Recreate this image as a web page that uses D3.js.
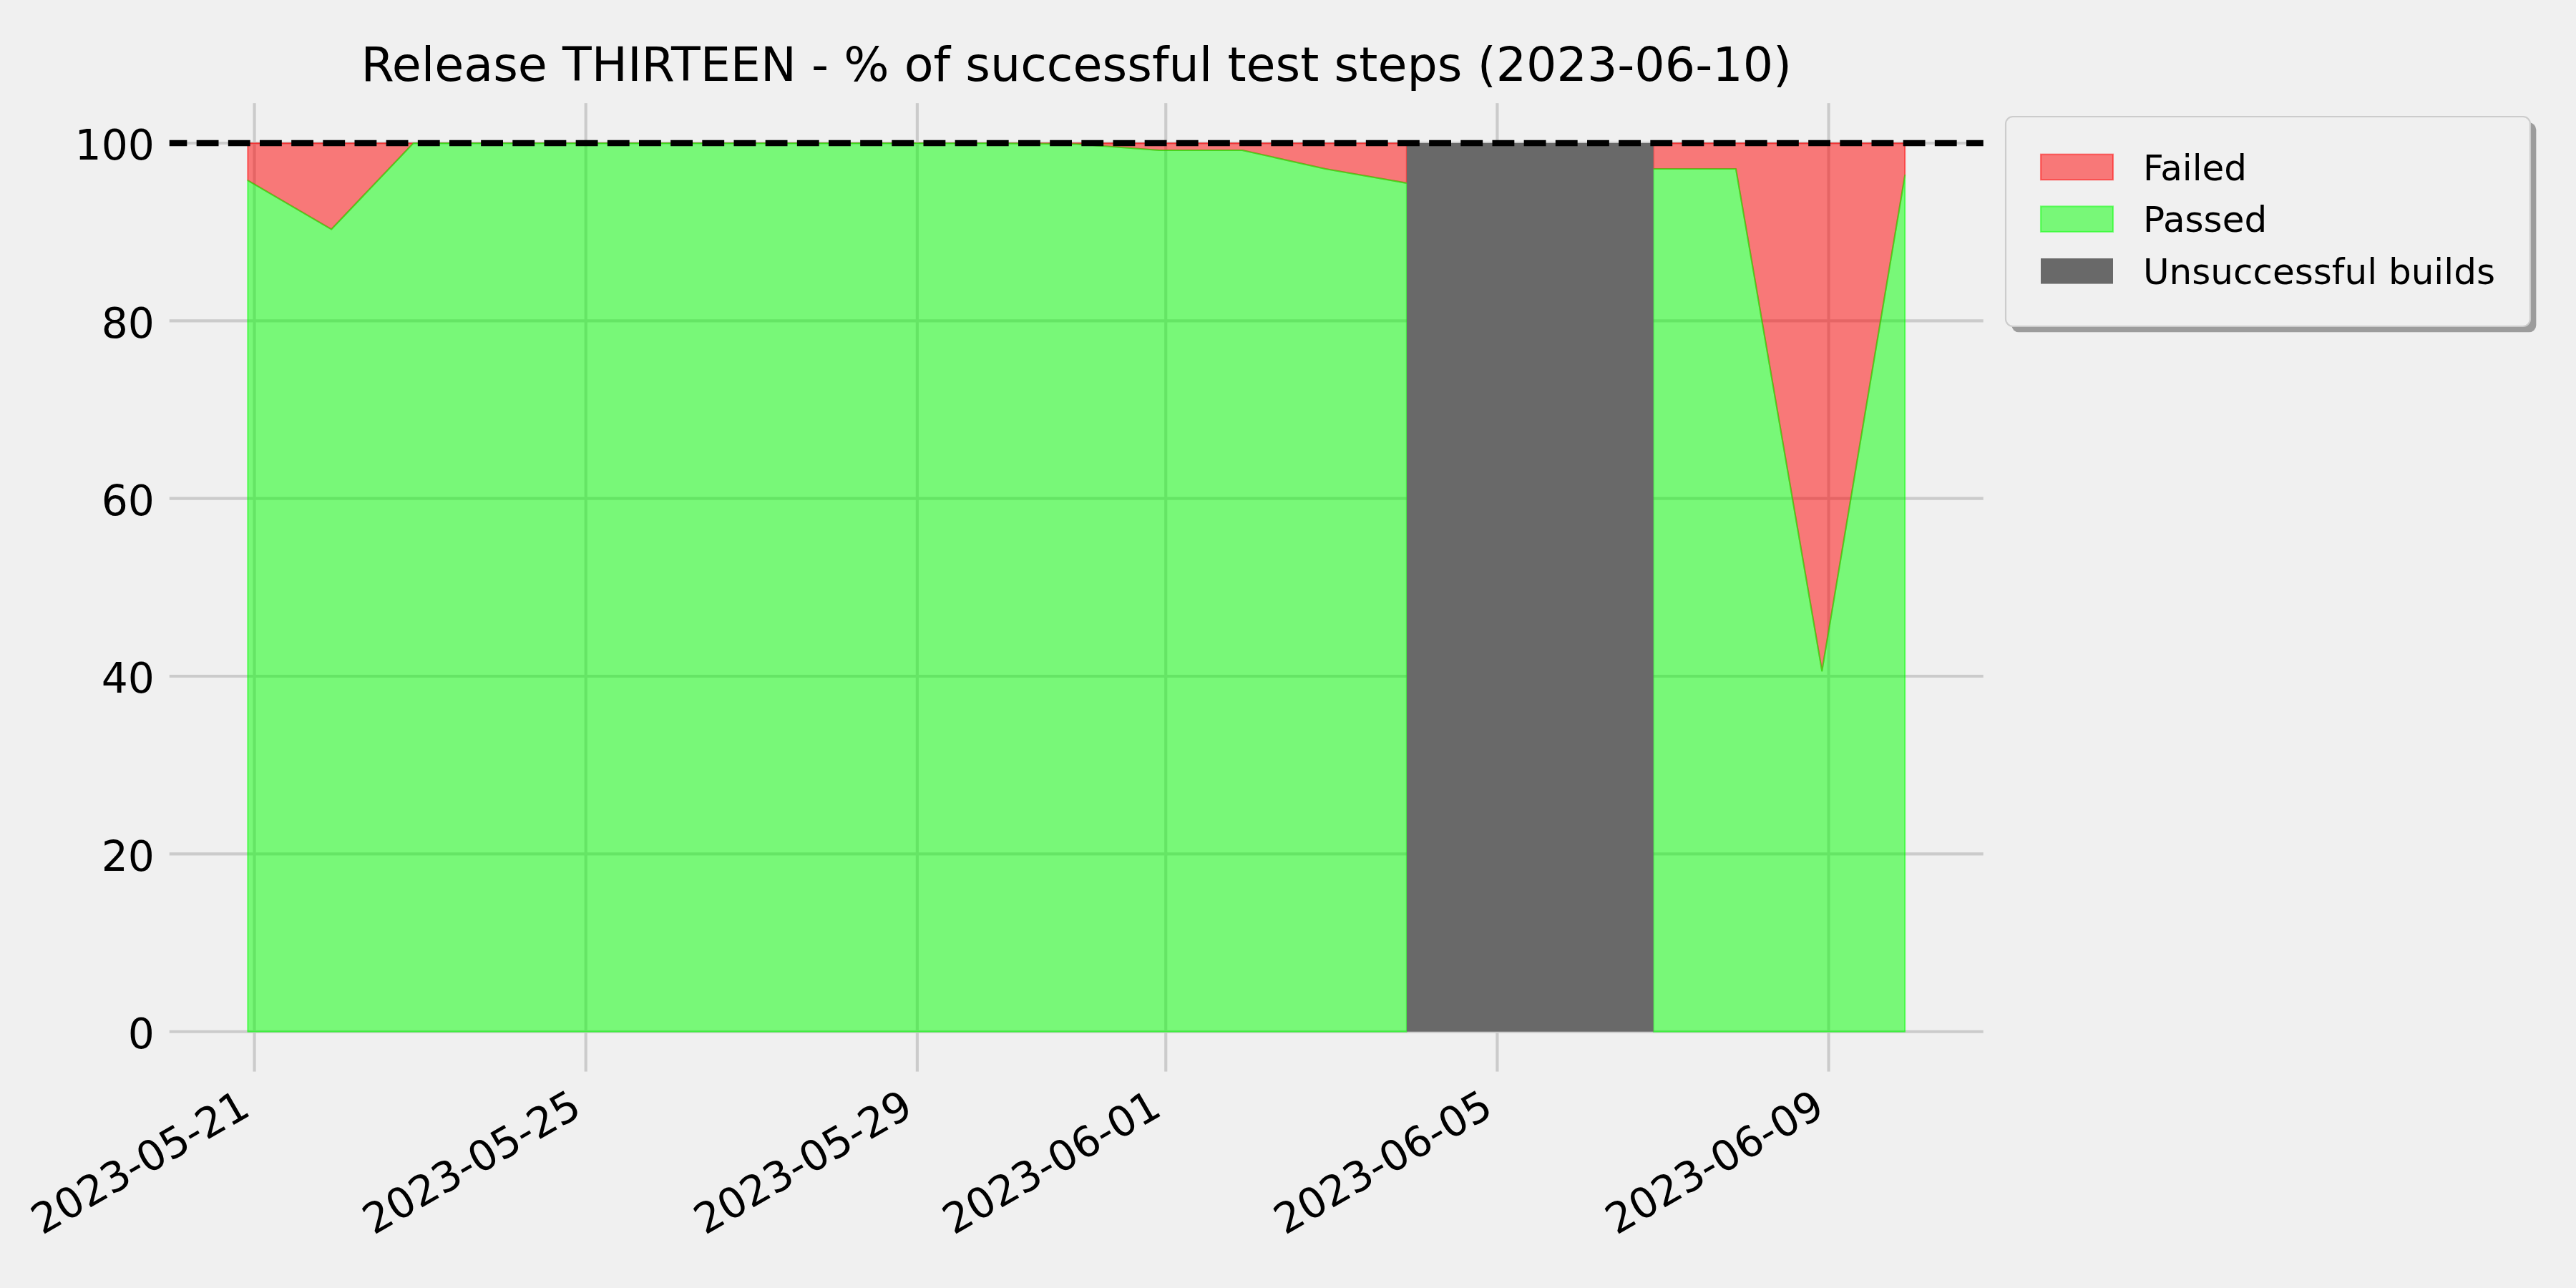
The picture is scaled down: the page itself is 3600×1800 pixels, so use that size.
<!DOCTYPE html>
<html>
<head>
<meta charset="utf-8">
<script src="https://cdn.jsdelivr.net/npm/d3@7/dist/d3.min.js"></script>
<style>
  html, body { margin: 0; padding: 0; background: #f0f0f0; }
  svg { display: block; }
  text { font-family: "DejaVu Sans", sans-serif; fill: #000; }
</style>
</head>
<body>
<svg id="chart" width="3600" height="1800"></svg>
<script>
// ---------------- data ----------------
const titleText = "Release THIRTEEN - % of successful test steps (2023-06-10)";

// time each nightly run was executed
const runTimes = [
  "2023-05-20T22:05", "2023-05-21T22:17", "2023-05-22T22:03", "2023-05-23T22:05",
  "2023-05-24T22:05", "2023-05-25T22:05", "2023-05-26T22:05", "2023-05-27T22:05",
  "2023-05-28T22:05", "2023-05-29T22:05", "2023-05-30T22:05", "2023-05-31T22:08",
  "2023-06-01T22:10", "2023-06-02T22:14", "2023-06-03T21:46", "2023-06-04T22:05",
  "2023-06-05T22:05", "2023-06-06T21:15", "2023-06-07T21:08", "2023-06-08T22:04",
  "2023-06-09T22:06"
];
// did the build succeed?
const buildOk = [
  true, true, true, true, true, true, true, true, true, true, true,
  true, true, true, true, false, false, true, true, true, true
];
// % of passed test steps (null = no tests, build failed)
const passedPct = [
  95.8, 90.3, 100, 100, 100, 100, 100, 100, 100, 100, 99.9,
  99.2, 99.2, 97.1, 95.5, null, null, 97.1, 97.1, 40.6, 96.4
];
const targetPct = 100;

const yTicks = [0, 20, 40, 60, 80, 100];
const xTickLabels = ["2023-05-21", "2023-05-25", "2023-05-29", "2023-06-01", "2023-06-05", "2023-06-09"];

const legendLabels = ["Failed", "Passed", "Unsuccessful builds"];

// ---------------- styles ----------------
const C = {
  bg: "#f0f0f0",
  grid: "#cbcbcb",
  red: "#ff0000",
  green: "#00ff00",
  gray: "#696969",
  legendEdge: "#cccccc",
  shadow: "#9c9c9c"
};
const PT = 300 / 72; // px per point

// ---------------- layout ----------------
const axL = 230.5, axR = 2778, axT = 137.9, axB = 1503.8;

const parseRun = d3.timeParse("%Y-%m-%dT%H:%M");
const parseDay = d3.timeParse("%Y-%m-%d");

const runs = runTimes.map((t, i) => ({
  t: parseRun(t), ok: buildOk[i], passed: passedPct[i]
}));

const ext = d3.extent(runs, d => d.t);
const span = ext[1] - ext[0];
const x = d3.scaleTime()
  .domain([new Date(+ext[0] - 0.05 * span), new Date(+ext[1] + 0.05 * span)])
  .range([axL, axR]);
const y = d3.scaleLinear().domain([-5, 105]).range([axB, axT]);

const svg = d3.select("#chart");
svg.append("rect").attr("width", 3600).attr("height", 1800).attr("fill", C.bg);

// grid
const g = svg.append("g");
g.selectAll("line.hg").data(yTicks).join("line")
  .attr("x1", axL).attr("x2", axR)
  .attr("y1", d => y(d)).attr("y2", d => y(d))
  .attr("stroke", C.grid).attr("stroke-width", 1 * PT);
const xTicks = xTickLabels.map(parseDay);
g.selectAll("line.vg").data(xTicks).join("line")
  .attr("x1", d => x(d)).attr("x2", d => x(d))
  .attr("y1", axT).attr("y2", axB)
  .attr("stroke", C.grid).attr("stroke-width", 1 * PT);

// failed area (between passed and 100)
const defined = d => d.ok && d.passed != null;
const failedArea = d3.area()
  .defined(defined)
  .x(d => x(d.t))
  .y0(d => y(d.passed))
  .y1(() => y(targetPct));
const passedArea = d3.area()
  .defined(defined)
  .x(d => x(d.t))
  .y0(() => y(0))
  .y1(d => y(d.passed));

svg.append("path").datum(runs).attr("d", failedArea)
  .attr("fill", C.red).attr("fill-opacity", 0.5)
  .attr("stroke", C.red).attr("stroke-opacity", 0.5)
  .attr("stroke-width", 0.5 * PT).attr("stroke-linejoin", "round");
svg.append("path").datum(runs).attr("d", passedArea)
  .attr("fill", C.green).attr("fill-opacity", 0.5)
  .attr("stroke", C.green).attr("stroke-opacity", 0.5)
  .attr("stroke-width", 0.5 * PT).attr("stroke-linejoin", "round");

// unsuccessful build spans: from last good run before to first good run after
const spans = [];
runs.forEach((r, i) => {
  if (!r.ok) {
    let a = i - 1; while (a > 0 && !runs[a].ok) a--;
    let b = i + 1; while (b < runs.length - 1 && !runs[b].ok) b++;
    const s = spans.find(sp => sp.a === a && sp.b === b);
    if (!s) spans.push({ a, b });
  }
});
svg.selectAll("rect.fail").data(spans).join("rect")
  .attr("x", d => x(runs[d.a].t))
  .attr("width", d => x(runs[d.b].t) - x(runs[d.a].t))
  .attr("y", y(targetPct))
  .attr("height", y(0) - y(targetPct))
  .attr("fill", C.gray);

// target line
svg.append("line")
  .attr("x1", axL).attr("x2", axR)
  .attr("y1", y(targetPct)).attr("y2", y(targetPct))
  .attr("stroke", "#000").attr("stroke-width", 2 * PT)
  .attr("stroke-dasharray", `${3.7 * 2 * PT} ${1.6 * 2 * PT}`);

// spines in background color
svg.append("rect")
  .attr("x", axL).attr("y", axT).attr("width", axR - axL).attr("height", axB - axT)
  .attr("fill", "none").attr("stroke", C.bg).attr("stroke-width", 3 * PT);

// y tick labels
const tickFont = 14 * PT;
svg.selectAll("text.yt").data(yTicks).join("text")
  .attr("x", axL - 3.5 * PT)
  .attr("y", d => y(d) + 23.3)
  .attr("text-anchor", "end")
  .attr("font-size", tickFont)
  .text(d => d);

// x tick labels
svg.selectAll("text.xt").data(xTickLabels).join("text")
  .attr("transform", d => `translate(${x(parseDay(d)) - 3},1557) rotate(-30)`)
  .attr("text-anchor", "end")
  .attr("font-size", tickFont)
  .text(d => d);

// title
svg.append("text")
  .attr("x", (axL + axR) / 2).attr("y", 112.7)
  .attr("text-anchor", "middle")
  .attr("font-size", 16 * PT)
  .text(titleText);

// legend
const lg = svg.append("g");
const lx = 2803, ly = 163, lw = 733, lh = 293;
lg.append("rect").attr("x", lx + 2 * PT).attr("y", ly + 2 * PT)
  .attr("width", lw).attr("height", lh).attr("rx", 10).attr("fill", C.shadow);
lg.append("rect").attr("x", lx).attr("y", ly)
  .attr("width", lw).attr("height", lh).attr("rx", 10)
  .attr("fill", C.bg).attr("stroke", C.legendEdge).attr("stroke-width", 0.5 * PT);
const legendStyles = [
  { fill: C.red, op: 0.5, stroke: C.red },
  { fill: C.green, op: 0.5, stroke: C.green },
  { fill: C.gray, op: 1, stroke: "none" }
];
const item = lg.selectAll("g.item").data(legendLabels).join("g")
  .attr("transform", (d, i) => `translate(0,${i * 72.7})`);
item.append("rect")
  .attr("x", 2852).attr("y", 215.7).attr("width", 101).attr("height", 35.5)
  .attr("fill", (d, i) => legendStyles[i].fill)
  .attr("fill-opacity", (d, i) => legendStyles[i].op)
  .attr("stroke", (d, i) => legendStyles[i].stroke)
  .attr("stroke-opacity", 0.5)
  .attr("stroke-width", 0.5 * PT);
item.append("text")
  .attr("x", 2995).attr("y", 251.7)
  .attr("font-size", 12 * PT)
  .text(d => d);
</script>
</body>
</html>
